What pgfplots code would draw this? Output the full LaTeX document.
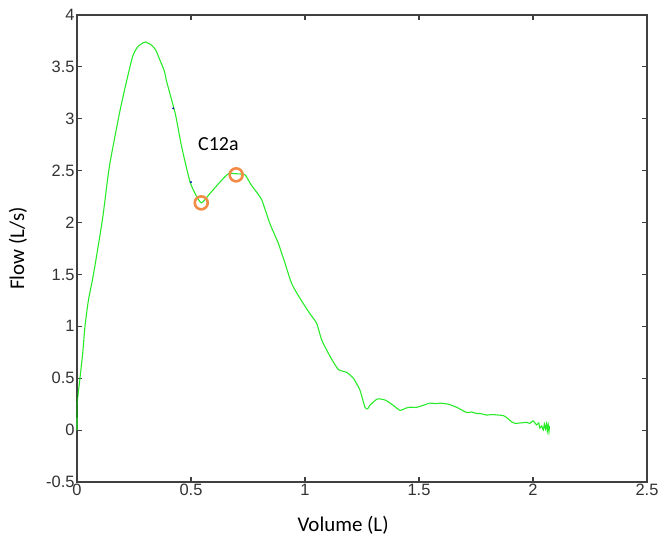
\documentclass[border=0pt]{standalone}
\usepackage{fontspec}
\setmainfont{Carlito}
\newfontfamily\tickfont{Liberation Sans}
\usepackage{pgfplots}
\pgfplotsset{compat=1.18}
\definecolor{flowgreen}{RGB}{40,235,40}
\definecolor{darkgreen}{RGB}{20,110,20}
\definecolor{ringorange}{RGB}{240,140,70}
\definecolor{axisgray}{RGB}{64,64,64}

\begin{document}
\begin{tikzpicture}
\begin{axis}[
  scale only axis,
  width=570bp, height=467bp,
  xmin=0, xmax=2.5, ymin=-0.5, ymax=4,
  xtick={0,0.5,1,1.5,2,2.5},
  ytick={-0.5,0,0.5,1,1.5,2,2.5,3,3.5,4},
  xticklabels={0,0.5,1,1.5,2,2.5},
  yticklabels={-0.5,0,0.5,1,1.5,2,2.5,3,3.5,4},
  tick pos=both, tick align=inside,
  major tick length=5bp,
  axis line style={axisgray, line width=1.2bp},
  tick style={axisgray, line width=1.2bp},
  ticklabel style={font=\tickfont\fontsize{16.5}{16.5}\selectfont, text=black!80},
  xticklabel style={yshift=1bp},
  yticklabel style={xshift=1bp},
  clip=false,
]
  % flow-volume loop, expiratory part
  \addplot[flowgreen, line width=1.1bp, smooth, tension=0.35] coordinates {
    (0,0)(0.001,0.26)(0.013,0.5)(0.025,0.74)(0.035,1.0)(0.05,1.25)
    (0.067,1.44)(0.083,1.64)(0.113,2.05)(0.142,2.54)(0.186,3.05)
    (0.215,3.34)(0.244,3.60)(0.265,3.69)(0.288,3.73)(0.303,3.74)
    (0.31,3.73)(0.327,3.71)(0.346,3.66)(0.361,3.58)(0.383,3.46)
    (0.393,3.36)(0.419,3.15)(0.434,3.02)(0.459,2.73)(0.496,2.39)
    (0.525,2.25)(0.547,2.19)(0.583,2.28)(0.627,2.39)(0.664,2.47)
    (0.70,2.47)(0.737,2.46)(0.759,2.38)(0.775,2.33)(0.81,2.22)
    (0.846,1.99)(0.883,1.80)(0.912,1.61)(0.942,1.41)(0.978,1.27)
    (1.022,1.12)(1.051,1.03)(1.073,0.87)(1.11,0.71)(1.146,0.585)
    (1.183,0.556)(1.212,0.50)(1.241,0.385)(1.263,0.22)(1.275,0.205)
    (1.285,0.24)(1.317,0.30)(1.351,0.29)(1.38,0.25)(1.417,0.19)
    (1.44,0.21)(1.46,0.22)(1.49,0.22)(1.52,0.24)(1.548,0.26)
    (1.575,0.255)(1.592,0.26)(1.628,0.25)(1.665,0.22)(1.709,0.17)
    (1.73,0.175)(1.753,0.16)(1.768,0.16)(1.797,0.145)(1.82,0.15)
    (1.848,0.145)(1.87,0.14)(1.885,0.12)(1.906,0.08)(1.92,0.065)
    (1.95,0.07)(1.97,0.075)(1.987,0.065)(2.0,0.09)(2.016,0.05)
    (2.025,0.07)(2.03,0.02)(2.038,0.04)(2.045,0.0)(2.05,0.06)
    (2.055,0.01)(2.06,0.065)(2.063,-0.01)(2.067,0.05)(2.07,-0.017)
    (2.072,0.04)};
  % darker start of the trace
  \addplot[darkgreen, line width=1.1bp] coordinates {(0,0.12)(0.001,0.35)};
  % stray blue samples
  \addplot[only marks, mark=*, mark size=0.7bp, blue!70!black]
    coordinates {(0.422,3.10)(0.5,2.39)};
  % marked points
  \addplot[only marks, mark=o, mark size=6.5bp,
           mark options={ringorange, line width=2.6bp}]
    coordinates {(0.545,2.19)(0.698,2.46)};
  \node[font=\fontsize{20}{20}\selectfont] at (axis cs:0.62,2.76) {C12a};
  \node[font=\fontsize{21}{21}\selectfont] at ([yshift=-43bp]axis cs:1.167,-0.5) {Volume (L)};
  \node[font=\fontsize{21}{21}\selectfont, rotate=90] at ([xshift=-59bp]axis cs:0,1.75) {Flow (L/s)};
\end{axis}
\pgfresetboundingbox
\path[use as bounding box] (-77bp,-66bp) rectangle (587bp,482bp);
\end{tikzpicture}
\end{document}
